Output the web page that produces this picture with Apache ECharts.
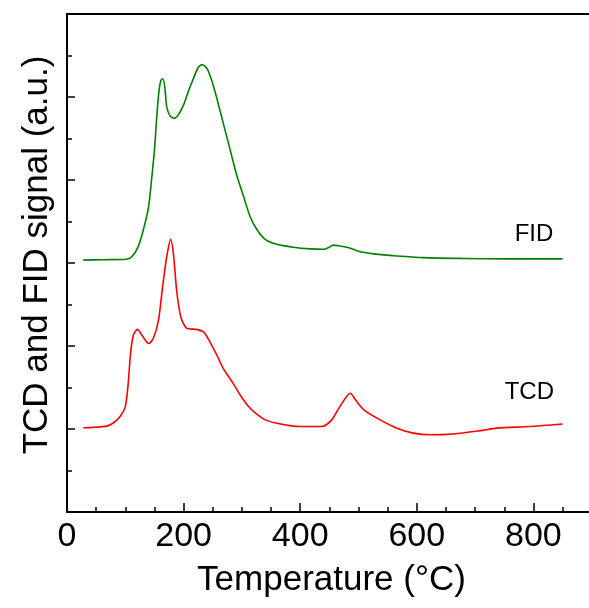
<!DOCTYPE html>
<html>
<head>
<meta charset="utf-8">
<script src="https://cdn.jsdelivr.net/npm/echarts@6/dist/echarts.min.js"></script>
<style>
  html, body { margin: 0; padding: 0; background: #fff; }
  #chart { width: 589px; height: 608px; }
</style>
</head>
<body>
<div id="chart"></div>
<script>
// TPR profile: temperature (°C) and detector signal (arbitrary units, offset traces)
const fidTemp = [28, 60, 102, 111, 122, 131, 140, 145, 150, 154, 158, 161, 164, 167.5, 171, 177, 184, 191, 200, 208, 217, 225, 232, 240, 248, 257, 268, 280, 291, 303, 314, 326, 340, 360, 388, 417, 440, 450, 457, 468, 480, 491, 503, 526, 566, 611, 680, 750, 850];
const fidSignal = [6.07, 6.08, 6.09, 6.15, 6.39, 6.80, 7.36, 8.0, 8.72, 9.53, 10.17, 10.40, 10.44, 10.27, 9.77, 9.54, 9.49, 9.57, 9.81, 10.13, 10.45, 10.71, 10.78, 10.69, 10.41, 9.97, 9.37, 8.72, 8.12, 7.60, 7.12, 6.80, 6.57, 6.45, 6.38, 6.34, 6.33, 6.38, 6.43, 6.41, 6.38, 6.33, 6.27, 6.22, 6.17, 6.13, 6.11, 6.10, 6.10];

const tcdTemp = [28, 45, 68, 80, 91, 100, 105, 109, 114, 121, 128, 140, 148, 157, 164, 171, 178, 182.5, 188, 195, 205, 222, 234, 242, 257, 268, 283, 297, 311, 326, 340, 360, 388, 400, 437, 454, 468, 486, 497, 511, 537, 566, 594, 623, 663, 709, 737, 794, 850];
const tcdSignal = [2.03, 2.04, 2.07, 2.15, 2.30, 2.54, 3.10, 3.82, 4.27, 4.40, 4.27, 4.06, 4.18, 4.63, 5.43, 6.15, 6.57, 6.23, 5.35, 4.71, 4.43, 4.40, 4.34, 4.18, 3.78, 3.46, 3.14, 2.82, 2.55, 2.35, 2.22, 2.14, 2.07, 2.06, 2.06, 2.22, 2.54, 2.86, 2.66, 2.44, 2.22, 2.02, 1.90, 1.86, 1.88, 1.96, 2.02, 2.06, 2.12];

// trace labels: [text, temperature, signal]
const traceLabels = [
  ['FID', 801, 6.70],
  ['TCD', 793, 2.89]
];

const xTickValues = [0, 200, 400, 600, 800];

const FONT = '"Liberation Sans", Arial, Helvetica, sans-serif';
const GREEN = '#008000';
const RED = '#ff0000';

const pairs = (xs, ys) => xs.map((x, i) => [x, ys[i]]);

const chart = echarts.init(document.getElementById('chart'), null, { renderer: 'canvas' });

const axisLine = { show: true, lineStyle: { color: '#000', width: 2 } };

const labelStyle = {
  show: true, position: 'inside', formatter: p => p.name,
  fontFamily: FONT, fontSize: 24, color: '#000', align: 'center', verticalAlign: 'middle'
};

const traceMarks = name => ({
  symbol: 'circle', symbolSize: 0,
  label: labelStyle,
  data: traceLabels.filter(l => l[0] === name).map(l => ({ name: l[0], coord: [l[1], l[2]] }))
});

chart.setOption({
  animation: false,
  backgroundColor: '#fff',
  // the temperature axis runs on past the right edge of the canvas
  grid: { left: 67, top: 14, width: 583, height: 498, containLabel: false, outerBoundsMode: 'none' },
  xAxis: [
    {
      type: 'value',
      min: 0,
      max: 1000,
      interval: 200,
      name: 'Temperature (°C)',
      nameLocation: 'middle',
      nameGap: 51,
      // centred under the visible part of the axis
      nameTextStyle: { fontFamily: FONT, fontSize: 35, color: '#000', padding: [0, 54, 0, 0] },
      axisLine: axisLine,
      axisTick: { show: true, inside: true, length: 9, lineStyle: { color: '#000', width: 1.5 } },
      minorTick: { show: true, splitNumber: 4, length: 5, lineStyle: { color: '#000', width: 1.5 } },
      splitLine: { show: false },
      axisLabel: {
        margin: 8,
        fontFamily: FONT, fontSize: 34, color: '#000',
        formatter: v => (xTickValues.includes(v) ? String(v) : '')
      }
    },
    {
      type: 'value',
      position: 'top',
      min: 0,
      max: 1000,
      axisLine: axisLine,
      axisTick: { show: false },
      axisLabel: { show: false },
      splitLine: { show: false }
    }
  ],
  yAxis: {
    type: 'value',
    min: 0,
    max: 12,
    interval: 2,
    name: 'TCD and FID signal (a.u.)',
    nameLocation: 'middle',
    nameGap: 12,
    nameTextStyle: { fontFamily: FONT, fontSize: 35, color: '#000', padding: [0, 0, 0, 16] },
    axisLine: axisLine,
    axisTick: { show: true, inside: true, length: 8, lineStyle: { color: '#000', width: 1.5 } },
    minorTick: { show: true, splitNumber: 2, length: 5, lineStyle: { color: '#000', width: 1.5 } },
    splitLine: { show: false },
    axisLabel: { show: false }
  },
  series: [
    {
      name: 'FID',
      type: 'line',
      data: pairs(fidTemp, fidSignal),
      showSymbol: false,
      smooth: 0.25,
      lineStyle: { color: GREEN, width: 1.6 },
      markPoint: traceMarks('FID')
    },
    {
      name: 'TCD',
      type: 'line',
      data: pairs(tcdTemp, tcdSignal),
      showSymbol: false,
      smooth: 0.25,
      lineStyle: { color: RED, width: 1.6 },
      markPoint: traceMarks('TCD')
    }
  ]
});
</script>
</body>
</html>
